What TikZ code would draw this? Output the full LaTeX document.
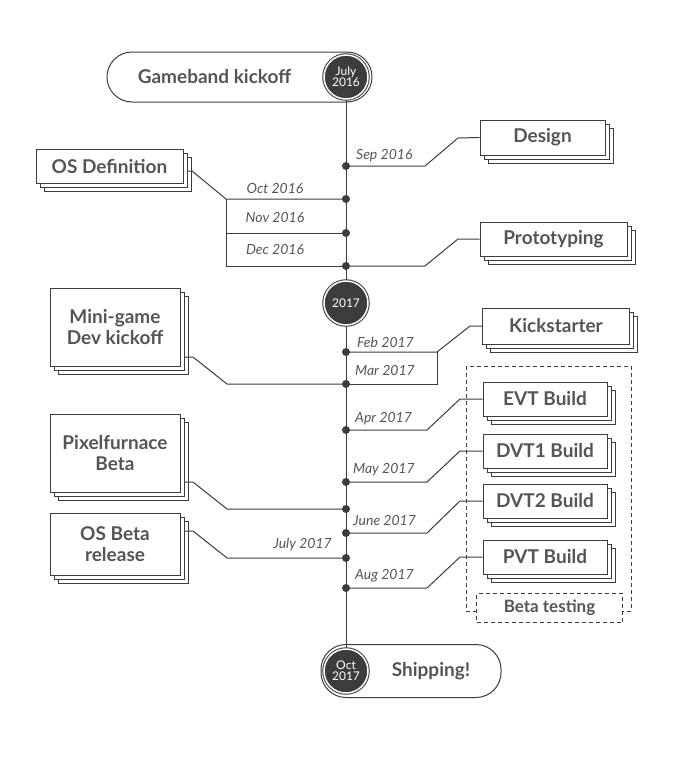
\documentclass[tikz,border=0pt]{standalone}
\usepackage{fontspec}
\setmainfont{Lato}
\usetikzlibrary{shadows}
\definecolor{dk}{HTML}{3C3C3C}
\definecolor{gr}{HTML}{555555}
\begin{document}
\begin{tikzpicture}[x=1pt,y=-1pt,
  box/.style={draw=dk,line width=1pt,fill=white,inner sep=0pt,align=center,font=\bfseries\fontsize{19}{21}\selectfont,text=gr,
    double copy shadow={shadow xshift=4pt,shadow yshift=-4pt,draw=dk,fill=white}},
  ln/.style={draw=dk,line width=1pt},
  lab/.style={font=\itshape\fontsize{14}{16}\selectfont,text=gr,inner sep=1pt},
  dot/.style={circle,fill=dk,inner sep=0pt,minimum size=8pt},
  yr/.style={circle,fill=dk,draw=dk,double=white,double distance=1.5pt,line width=1pt,minimum size=44pt,inner sep=0pt,text=white,align=center,font=\fontsize{12}{12}\selectfont},
  pill/.style={draw=dk,line width=1pt,fill=white,rounded corners=25pt,inner sep=0pt,font=\bfseries\fontsize{19}{21}\selectfont,text=gr}]
\useasboundingbox (0,0) rectangle (680,758);
% main line
\coordinate (top) at (346,77);
\coordinate (bot) at (346,671);
% pills
\node[pill,minimum width=265pt,minimum height=50pt] (gk) at (239.5,77) {\hspace*{-50pt}Gameband kickoff};
\node[pill,minimum width=180pt,minimum height=53pt] (sh) at (411,671) {\hspace*{40pt}Shipping!};
\draw[ln] (top) -- (bot);
\node[yr] (y16) at (346,77) {July\\[-1pt]2016};
\node[yr] (y17) at (346,303) {2017};
\node[yr] (y17b) at (346,671) {Oct\\[-1pt]2017};
% dots
\foreach \n/\y in {sep/166,oct/199,nov/233,dec/266,feb/352,mar/384,apr/430,may/482,jun1/509,jun/533,jul/558,aug/588}
  \node[dot] (\n) at (346,\y) {};
% boxes
\node[box,minimum width=125pt,minimum height=35pt] (des) at (542.5,137.5) {Design};
\node[box,minimum width=147pt,minimum height=34pt] (osd) at (109.5,166.5) {OS Definition};
\node[box,minimum width=147pt,minimum height=34pt] (pro) at (553.5,239) {Prototyping};
\node[box,minimum width=130pt,minimum height=78pt] (mg) at (115,327) {Mini-game\\Dev kickoff};
\node[box,minimum width=147pt,minimum height=36pt] (ks) at (556,326) {Kickstarter};
\node[box,minimum width=130pt,minimum height=78pt] (pf) at (115,453) {Pixelfurnace\\Beta};
\node[box,minimum width=130pt,minimum height=62pt] (osb) at (115,544) {OS Beta\\release};
\node[box,minimum width=124pt,minimum height=34pt] (evt) at (545,399) {EVT Build};
\node[box,minimum width=124pt,minimum height=34pt] (dv1) at (545,451) {DVT1 Build};
\node[box,minimum width=124pt,minimum height=34pt] (dv2) at (545,501) {DVT2 Build};
\node[box,minimum width=124pt,minimum height=34pt] (pvt) at (545,557) {PVT Build};
% beta group
\draw[dk,line width=1pt,dash pattern=on 4pt off 3pt] (466,366) rectangle (631,611);
\node[draw=dk,line width=1pt,dash pattern=on 4pt off 3pt,fill=white,minimum width=146pt,minimum height=29pt,inner sep=0pt,font=\bfseries\fontsize{17}{19}\selectfont,text=gr] (bt) at (549.5,608) {Beta testing};
% connectors right
\draw[ln] (sep.center) -- (425,166) -- (458,138) -- (des.west);
\draw[ln] (dec.center) -- (425,266) -- (458,239) -- (pro.west);
\draw[ln] (feb.center) -- (437,352) -- (470,326) -- (ks.west);
\draw[ln] (mar.center) -- (437,384) -- (437,352);
\draw[ln] (apr.center) -- (427,430) -- (460,399) -- (evt.west);
\draw[ln] (may.center) -- (427,482) -- (460,451) -- (dv1.west);
\draw[ln] (jun.center) -- (427,533) -- (460,501) -- (dv2.west);
\draw[ln] (aug.center) -- (427,588) -- (460,557) -- (pvt.west);
% connectors left
\draw[ln] (187,171) -- (192,171) -- (226,199) -- (oct.center);
\draw[ln] (226,199) -- (226,266) -- (dec.center);
\draw[ln] (226,233) -- (nov.center);
\draw[ln] (184,357) -- (193,357) -- (227,384) -- (mar.center);
\draw[ln] (184,482) -- (193,482) -- (227,509) -- (jun1.center);
\draw[ln] (184,531) -- (193,531) -- (227,558) -- (jul.center);
% labels
\node[lab,anchor=west] (l1) at (355,156) {Sep 2016};
\node[lab] (l2) at (275,188) {Oct 2016};
\node[lab] (l3) at (275,217) {Nov 2016};
\node[lab] (l4) at (275,249) {Dec 2016};
\node[lab,anchor=west] (l5) at (356,342) {Feb 2017};
\node[lab,anchor=west] (l6) at (354,370) {Mar 2017};
\node[lab,anchor=west] (l7) at (354,419) {Apr 2017};
\node[lab,anchor=west] (l8) at (352,470) {May 2017};
\node[lab,anchor=west] (l9) at (352,520) {June 2017};
\node[lab,anchor=east] (l10) at (333,545) {July 2017};
\node[lab,anchor=west] (l11) at (354,576) {Aug 2017};
\end{tikzpicture}
\end{document}
